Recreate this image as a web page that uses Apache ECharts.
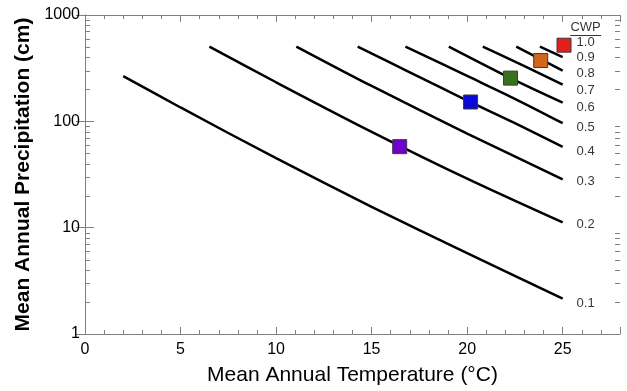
<!DOCTYPE html>
<html><head><meta charset="utf-8">
<script src="https://cdn.jsdelivr.net/npm/echarts@6/dist/echarts.min.js"></script>
<style>html,body{margin:0;padding:0;background:#fff}#c{width:627px;height:391px}</style>
</head><body><div id="c"></div>
<script>
// CWP contour lines: [temperature °C, precipitation cm]
const cwp01 = [[2, 266], [5, 135], [10, 45], [15, 15.7], [20, 5.75], [25, 2.15]];
const cwp02 = [[6.51, 505], [10, 233], [15, 79.7], [20, 28.9], [25, 11.2]];
const cwp03 = [[11.06, 505], [15, 215], [20, 76.8], [25, 28.5]];
const cwp04 = [[14.27, 505], [17, 289], [20, 157], [22.5, 96], [25, 57.5]];
const cwp05 = [[16.77, 505], [20, 267], [22.5, 163], [25, 96]];
const cwp06 = [[19.04, 505], [22.27, 255], [25, 150]];
const cwp07 = [[20.82, 505], [23, 330], [25, 221]];
const cwp08 = [[22.57, 505], [25, 300]];
const cwp09 = [[23.81, 505], [25, 401]];
const contourLines = [cwp01, cwp02, cwp03, cwp04, cwp05, cwp06, cwp07, cwp08, cwp09];

// Highlighted sites (squares)
const siteTemps = [16.47, 20.18, 22.27, 23.85, 25.07];
const sitePrecip = [57.8, 152, 255, 373, 520];
const siteColors = ['#7000cc', '#0a0ad6', '#3a6f1c', '#d2651c', '#e0201c'];

// CWP labels at right
const cwpLabels = ['1.0', '0.9', '0.8', '0.7', '0.6', '0.5', '0.4', '0.3', '0.2', '0.1'];
const cwpLabelY = [555, 398, 284, 195, 136, 87.8, 52.3, 27.4, 10.7, 1.95];
const cwpLabelX = 26.2;
const cwpHeaderY = 755;

// Axes
const xMin = 0, xMax = 28;
const yMin = 1, yMax = 1000;
const yMinorTicks = [2,3,4,5,6,7,8,9,20,30,40,50,60,70,80,90,200,300,400,500,600,700,800,900];

const axisGray = '#808080';
const font = 'Liberation Sans, Arial, Helvetica, sans-serif';

const series = [];
contourLines.forEach(function (d) {
  series.push({
    type: 'line', data: d, showSymbol: false, smooth: 0.3,
    lineStyle: { color: '#000', width: 2.5 }, silent: true, z: 3
  });
});
series.push({
  type: 'scatter', symbol: 'rect', symbolSize: 14, z: 5, silent: true,
  data: siteTemps.map(function (t, i) {
    return { value: [t, sitePrecip[i]], itemStyle: { color: siteColors[i], opacity: 1, borderColor: '#3a3a3a', borderWidth: 1 } };
  })
});
series.push({
  type: 'scatter', symbolSize: 1, itemStyle: { color: 'rgba(0,0,0,0)' }, z: 6, silent: true,
  data: cwpLabels.map(function (s, i) { return { value: [cwpLabelX, cwpLabelY[i]], name: s }; }),
  label: { show: true, position: 'inside', formatter: function (p) { return p.name; },
    color: '#000', fontSize: 13, fontFamily: font, align: 'center', verticalAlign: 'middle' }
});
series.push({
  type: 'scatter', symbolSize: 1, itemStyle: { color: 'rgba(0,0,0,0)' }, z: 6, silent: true,
  data: [{ value: [cwpLabelX, cwpHeaderY], name: 'CWP' }],
  label: { show: true, position: 'inside', formatter: '{t|CWP}\n{u|}',
    rich: { t: { fontSize: 13, fontFamily: font, color: '#000', lineHeight: 15 },
            u: { width: 31, height: 1, backgroundColor: '#000', lineHeight: 2 } } }
});
const minorData = [];
yMinorTicks.forEach(function (v) { minorData.push([xMin, v, 1]); minorData.push([xMax, v, -1]); });
series.push({
  type: 'custom', clip: false, silent: true, z: 2,
  data: minorData,
  renderItem: function (params, api) {
    const p = api.coord([api.value(0), api.value(1)]);
    const dir = api.value(2);
    const y = Math.round(p[1]) + 0.5;
    return { type: 'line', shape: { x1: p[0], y1: y, x2: p[0] + dir * 5, y2: y },
      style: { stroke: axisGray, lineWidth: 1 } };
  }
});

const baseX = { type: 'value', min: xMin, max: xMax, splitLine: { show: false } };
const chart = echarts.init(document.getElementById('c'));
chart.setOption({
  animation: false,
  backgroundColor: '#fff',
  grid: { left: 85, right: 7, top: 15, bottom: 56 },
  xAxis: [
    Object.assign({}, baseX, {
      position: 'bottom', interval: 5,
      axisLine: { show: true, onZero: false, lineStyle: { color: axisGray } },
      axisTick: { show: true, inside: true, length: 7, lineStyle: { color: axisGray } },
      axisLabel: { show: true, margin: 8, fontSize: 16, fontFamily: font, color: '#000',
        formatter: function (v) { return v % 5 === 0 ? String(v) : ''; } },
      name: 'Mean Annual Temperature (°C)', nameLocation: 'middle', nameGap: 31,
      nameTextStyle: { fontSize: 21, fontFamily: font, color: '#000' }
    }),
    Object.assign({}, baseX, {
      position: 'bottom', interval: 1,
      axisLine: { show: false, onZero: false },
      axisTick: { show: true, inside: true, length: 4, lineStyle: { color: axisGray } },
      axisLabel: { show: false }
    }),
    Object.assign({}, baseX, {
      position: 'top', interval: 5,
      axisLine: { show: true, onZero: false, lineStyle: { color: axisGray } },
      axisTick: { show: true, inside: true, length: 7, lineStyle: { color: axisGray } },
      axisLabel: { show: false }
    }),
    Object.assign({}, baseX, {
      position: 'top', interval: 1,
      axisLine: { show: false, onZero: false },
      axisTick: { show: true, inside: true, length: 4, lineStyle: { color: axisGray } },
      axisLabel: { show: false }
    })
  ],
  yAxis: [
    {
      type: 'log', logBase: 10, min: yMin, max: yMax, position: 'left',
      splitLine: { show: false },
      axisLine: { show: true, lineStyle: { color: axisGray } },
      axisTick: { show: true, inside: true, length: 9, lineStyle: { color: axisGray } },
      axisLabel: { show: true, margin: 5, fontSize: 16, fontFamily: font, color: '#000',
        formatter: function (v) { return String(Math.round(v)); } },
      name: 'Mean Annual Precipitation (cm)', nameLocation: 'middle', nameGap: 49,
      nameTextStyle: { fontSize: 21, fontWeight: 'bold', fontFamily: font, color: '#000' }
    },
    {
      type: 'log', logBase: 10, min: yMin, max: yMax, position: 'right',
      splitLine: { show: false },
      axisLine: { show: true, lineStyle: { color: axisGray } },
      axisTick: { show: true, inside: true, length: 9, lineStyle: { color: axisGray } },
      axisLabel: { show: false }
    }
  ],
  series: series
});
</script></body></html>
